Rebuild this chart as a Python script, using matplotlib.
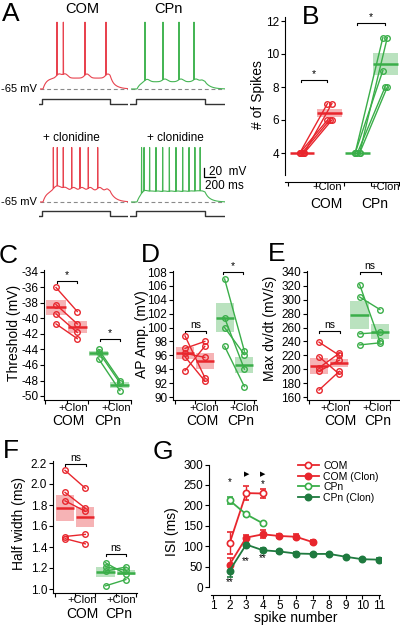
import numpy as np
import matplotlib
matplotlib.use("Agg")
import matplotlib.pyplot as plt
from matplotlib.patches import Rectangle
from matplotlib.lines import Line2D

plt.rcParams["font.family"] = ["Liberation Sans", "DejaVu Sans"]
plt.rcParams["axes.unicode_minus"] = False

W, H = 400, 627
RED = "#e8262d"
GREEN = "#3aae49"
DKGREEN = "#1f7a3f"
TRACE_RED = "#e8434f"
TRACE_GREEN = "#46b555"

# ---- A: example sweeps (ms from sweep start, mV) ----
MS_PER_PX = 18.0
MV_PER_PX = 2.2
sweep_com_ms = 1584
sweep_cpn_ms = 1692
step_com = (54, 1260)
step_cpn = (108, 1332)
com_ctrl_spikes = [306, 420, 810, 1188]
cpn_ctrl_spikes = [252, 576, 864, 1134]
cpn_ctrl_bumps = [1278]
com_clon_spikes = [240, 311, 419, 571, 720, 869, 1039]
com_clon_bumps = [1206]
cpn_clon_spikes = [190, 235, 335, 450, 570, 690, 810, 930, 1045, 1150, 1245]
cpn_clon_bumps = []

# ---- B-F: one value per cell, control vs +clonidine ----
spk_com_ctrl = [4, 4, 4, 4, 4]
spk_com_clon = [7, 7, 6, 6, 6]
spk_cpn_ctrl = [4, 4, 4, 4, 4]
spk_cpn_clon = [11, 11, 9, 8, 8]

thr_com_ctrl = [-36.0, -38.2, -39.4, -40.7]
thr_com_clon = [-39.1, -40.7, -41.8, -42.6]
thr_cpn_ctrl = [-44.0, -44.3, -45.2]
thr_cpn_clon = [-48.0, -48.3, -49.3]

amp_com_ctrl = [98.8, 97.0, 96.3, 95.8, 93.8]
amp_com_clon = [92.8, 98.0, 95.7, 92.3, 97.3]
amp_cpn_ctrl = [107.0, 101.4, 100.0, 97.3]
amp_cpn_clon = [96.6, 94.0, 96.1, 91.5]

dvdt_com_ctrl = [239, 218, 202, 197, 170]
dvdt_com_clon = [220, 193, 223, 213, 197]
dvdt_cpn_ctrl = [322, 304, 251, 235]
dvdt_cpn_clon = [240, 286, 253, 238]

hw_com_ctrl = [2.13, 1.92, 1.84, 1.50, 1.48]
hw_com_clon = [1.96, 1.77, 1.74, 1.52, 1.43]
hw_cpn_ctrl = [1.25, 1.21, 1.17, 1.03]
hw_cpn_clon = [1.14, 1.18, 1.21, 1.09]

# ---- G: ISI by spike number ----
isi_com_n = [2, 3, 4]
isi_com = [107, 230, 229]
isi_com_err = [27, 18, 12]
isi_com_clon_n = [2, 3, 4, 5, 6, 7]
isi_com_clon = [55, 121, 129, 125, 123, 110]
isi_com_clon_err = [17, 6, 10, 6, 6, 4]
isi_cpn_n = [2, 3, 4]
isi_cpn = [212, 178, 156]
isi_cpn_err = [8, 4, 4]
isi_cpn_clon_n = [2, 3, 4, 5, 6, 7, 8, 9, 10, 11]
isi_cpn_clon = [40, 104, 90, 87, 82, 81, 81, 74, 68, 67]
isi_cpn_clon_err = [15, 6, 5, 4, 3, 3, 3, 3, 3, 3]
isi_sig = [(2, 257, "*"), (3, 277, "\u25B6"), (4, 277, "\u25B6"), (4, 253, "*"),
           (2, 12, "**"), (3, 64, "**"), (4, 70, "**")]

fig = plt.figure(figsize=(W / 100, H / 100), dpi=100)


def pax(left, top, right, bottom):
    return fig.add_axes([left / W, 1 - bottom / H, (right - left) / W, (bottom - top) / H])


def ptext(x, y, s, **kw):
    kw.setdefault("ha", "center")
    kw.setdefault("va", "center")
    fig.text(x / W, 1 - y / H, s, **kw)


def sweep(spikes, bumps, on, off, end, plateau, adp, peak):
    t = np.arange(0, end, 0.5)
    v = np.zeros_like(t)
    inside = (t >= on) & (t <= off)
    v[inside] = plateau * (1 - np.exp(-(t[inside] - on) / 60.0))
    after = t > off
    v_off = plateau * (1 - np.exp(-(off - on) / 60.0))
    v[after] = v_off * np.exp(-(t[after] - off) / 95.0)
    for s in spikes:
        v += adp * np.exp(-0.5 * ((t - s - 35) / 45.0) ** 2)
    for b in bumps:
        v += 0.6 * adp * np.exp(-0.5 * ((t - b) / 30.0) ** 2)
    v -= 65
    for s in spikes:
        i = np.searchsorted(t, s)
        v += (peak - v[i]) * np.exp(-0.5 * ((t - s) / 1.2) ** 2)
    return t, v


def trace_panel(x0, base_px, spikes, bumps, step, end, color, plateau, adp, peak, cmd_px):
    right = x0 + end / MS_PER_PX
    top, bottom = base_px - 75, base_px + 4
    ax = pax(x0, top, right, bottom)
    ax.set_xlim(0, end)
    ax.set_ylim(-65 - (bottom - base_px) * MV_PER_PX, -65 + (base_px - top) * MV_PER_PX)
    ax.axis("off")
    ax.axhline(-65, color="#8a8a8a", lw=0.8, ls=(0, (3.5, 2.5)))
    t, v = sweep(spikes, bumps, step[0], step[1], end, plateau, adp, peak)
    ax.plot(t, v, color=color, lw=0.8)
    # command step
    axc = pax(x0 - 1, cmd_px - 7, right, cmd_px + 3)
    axc.set_xlim(0, end)
    axc.set_ylim(-0.6, 1.4)
    axc.axis("off")
    axc.plot([0, step[0], step[0], step[1], step[1], end], [0, 0, 1, 1, 0, 0], color="#333333", lw=1.0)
    return ax


# ---- A ----
trace_panel(40, 89, com_ctrl_spikes, [], step_com, sweep_com_ms, TRACE_RED, 24, 9, 82, 104)
trace_panel(131, 89, cpn_ctrl_spikes, cpn_ctrl_bumps, step_cpn, sweep_cpn_ms, TRACE_GREEN, 16, 6, 82, 104)
trace_panel(40, 202, com_clon_spikes, com_clon_bumps, step_com, sweep_com_ms, TRACE_RED, 24, 8, 55, 216)
ax_sb = trace_panel(131, 202, cpn_clon_spikes, cpn_clon_bumps, step_cpn, sweep_cpn_ms, TRACE_GREEN, 20, 4, 55, 216)

# scale bar: 20 mV, 200 ms
sb_t = (204 - 131) * MS_PER_PX
sb_v = -65 + (202 - 177) * MV_PER_PX
ax_sb.plot([sb_t, sb_t, sb_t + 200], [sb_v + 20, sb_v, sb_v], color="k", lw=0.9, clip_on=False)
ptext(209, 172, "20  mV", ha="left", fontsize=8.5)
ptext(205, 186, "200 ms", ha="left", fontsize=8.5)

ptext(82, 9, "COM", fontsize=10.5)
ptext(168, 9, "CPn", fontsize=10.5)
ptext(43, 138, "+ clonidine", ha="left", fontsize=8.5)
ptext(147, 138, "+ clonidine", ha="left", fontsize=8.5)
ptext(37, 89, "-65 mV", ha="right", fontsize=8)
ptext(37, 202, "-65 mV", ha="right", fontsize=8)


# ---- B-F ----
def value_axes(xl, xr, x1, dx, ya, yb, ylo, yhi):
    s = (yb[1] - ya[1]) / (yb[0] - ya[0])
    top = ya[1] + (yhi - ya[0]) * s
    bot = ya[1] + (ylo - ya[0]) * s
    ax = pax(xl, top, xr, bot)
    ax.set_xlim(1 + (xl - x1) / dx, 1 + (xr - x1) / dx)
    ax.set_ylim(ylo, yhi)
    ax.patch.set_visible(False)
    ax.spines[["top", "right"]].set_visible(False)
    for sp in ax.spines.values():
        sp.set_linewidth(0.8)
    ax.tick_params(direction="out", length=3, width=0.8, labelsize=8.5, pad=1.2)
    return ax


def paired(ax, groups, jitter=None):
    for k, (ctrl, clon, col) in enumerate(groups):
        x0 = 1 + 2 * k
        for i, (a, b) in enumerate(zip(ctrl, clon)):
            j = 0 if jitter is None else jitter[i]
            ax.plot([x0 + j, x0 + 1 + j], [a, b], color=col, lw=1.0, marker="o", ms=4,
                    mfc="none", mew=1.0, zorder=3)
        for xv, vals in ((x0, ctrl), (x0 + 1, clon)):
            m = np.mean(vals)
            s = np.std(vals, ddof=1) / np.sqrt(len(vals))
            ax.add_patch(Rectangle((xv - 0.45, m - s), 0.9, 2 * s, fc=col, alpha=0.35, lw=0, zorder=2))
            ax.plot([xv - 0.45, xv + 0.45], [m, m], color=col, lw=1.8, zorder=4, solid_capstyle="butt")


def bracket(ax, x0, x1, y, label, tick):
    ax.plot([x0, x0, x1, x1], [y - tick, y, y, y - tick], color="k", lw=0.8, clip_on=False)
    ax.text((x0 + x1) / 2, y + tick * 0.4, label, ha="center", va="bottom", fontsize=7.5, clip_on=False)


def cat_axis(ax, out=0):
    ax.spines["bottom"].set_position(("outward", out))
    ax.set_xticks([0.5, 1.5, 2.5, 3.5, 4.5])
    ax.set_xticklabels([])


def cat_labels(clon_xy, com_xy, cpn_xy):
    for x, y in clon_xy:
        ptext(x, y, "+Clon", fontsize=8)
    ptext(com_xy[0], com_xy[1], "COM", fontsize=10)
    ptext(cpn_xy[0], cpn_xy[1], "CPn", fontsize=10)


# B
axb = value_axes(285, 399, 302, 27.7, (12, 21), (4, 153), 2.67, 12.25)
cat_axis(axb, 5)
axb.set_yticks([4, 6, 8, 10, 12])
paired(axb, [(spk_com_ctrl, spk_com_clon, RED), (spk_cpn_ctrl, spk_cpn_clon, GREEN)],
       jitter=[-0.08, 0.08, -0.08, 0.08, 0.0])
bracket(axb, 0.95, 1.9, 8.42, "*", 0.12)
bracket(axb, 3.0, 4.0, 11.88, "*", 0.12)
cat_labels([(327, 187), (385, 187)], (326, 204), (375, 204))
ptext(258, 95, "# of Spikes", rotation=90, fontsize=10)

# C
axc = value_axes(44, 131, 56, 21.3, (-34, 272), (-50, 396), -50.5, -33.8)
cat_axis(axc)
axc.set_yticks(np.arange(-50, -33, 2))
paired(axc, [(thr_com_ctrl, thr_com_clon, RED), (thr_cpn_ctrl, thr_cpn_clon, GREEN)])
bracket(axc, 1.05, 1.98, -35.2, "*", 0.26)
bracket(axc, 3.07, 4.0, -42.6, "*", 0.26)
cat_labels([(73, 408), (116, 408)], (68, 421), (108, 421))
ptext(14, 333, "Threshold (mV)", rotation=90, fontsize=10)

# D
axd = value_axes(173, 256, 185, 19.8, (108, 272), (90, 397), 89.6, 108.2)
cat_axis(axd)
axd.set_yticks(np.arange(90, 109, 2))
paired(axd, [(amp_com_ctrl, amp_com_clon, RED), (amp_cpn_ctrl, amp_cpn_clon, GREEN)])
bracket(axd, 1.0, 2.06, 99.5, "ns", 0.29)
bracket(axd, 2.92, 3.93, 108.05, "*", 0.29)
cat_labels([(204, 408), (244, 408)], (202, 421), (241, 421))
ptext(142, 334, "AP Amp. (mV)", rotation=90, fontsize=10)

# E
axe = value_axes(307, 400, 319, 20.3, (340, 272), (160, 397), 155.5, 341.5)
cat_axis(axe)
axe.set_yticks(np.arange(160, 341, 20))
paired(axe, [(dvdt_com_ctrl, dvdt_com_clon, RED), (dvdt_cpn_ctrl, dvdt_cpn_clon, GREEN)])
bracket(axe, 1.0, 2.03, 255.4, "ns", 2.9)
bracket(axe, 3.0, 4.05, 340.4, "ns", 2.9)
cat_labels([(335, 408), (377, 408)], (340, 421), (378, 421))
ptext(270, 328, "Max dv/dt (mV/s)", rotation=90, fontsize=10)

# F
axf = value_axes(53, 137, 65, 20.3, (2.2, 463), (1.0, 589), 0.96, 2.215)
cat_axis(axf)
axf.set_yticks(np.arange(1.0, 2.21, 0.2))
axf.set_yticklabels([f"{v:.1f}" for v in np.arange(1.0, 2.21, 0.2)])
paired(axf, [(hw_com_ctrl, hw_com_clon, RED), (hw_cpn_ctrl, hw_cpn_clon, GREEN)])
bracket(axf, 1.0, 2.03, 2.19, "ns", 0.019)
bracket(axf, 3.0, 4.0, 1.333, "ns", 0.019)
cat_labels([(82, 600), (121, 600)], (82, 614), (119, 614))
ptext(19, 524, "Half width (ms)", rotation=90, fontsize=10)

# G
axg = value_axes(209, 381, 213, 16.6, (300, 464.5), (0, 587), -3, 302)
axg.spines["bottom"].set_position(("outward", 5))
axg.spines["left"].set_bounds(0, 300)
axg.spines["bottom"].set_bounds(0.85, 11.05)
axg.set_xticks(range(1, 12))
axg.set_yticks(range(0, 301, 50))
axg.tick_params(axis="x", pad=0.5)
series = [
    (isi_com_n, isi_com, isi_com_err, RED, "white", "COM"),
    (isi_com_clon_n, isi_com_clon, isi_com_clon_err, RED, RED, "COM (Clon)"),
    (isi_cpn_n, isi_cpn, isi_cpn_err, GREEN, "white", "CPn"),
    (isi_cpn_clon_n, isi_cpn_clon, isi_cpn_clon_err, DKGREEN, DKGREEN, "CPn (Clon)"),
]
handles = []
for xs, ys, es, col, fc, lab in series:
    axg.errorbar(xs, ys, yerr=es, color=col, marker="o", ms=4.5, mfc=fc, mew=1.2, lw=1.3,
                 capsize=2, elinewidth=1.0, zorder=3)
    handles.append(Line2D([], [], color=col, marker="o", ms=4.5, mfc=fc, mew=1.2, lw=1.3, label=lab))
for xv, yv, s in isi_sig:
    axg.text(xv, yv, s, ha="center", va="center", fontsize=5 if s == "\u25B6" else 7,
             family=["DejaVu Sans"] if s == "\u25B6" else None)
axg.legend(handles=handles, loc="upper left", bbox_to_anchor=(298 / W, 1 - 461 / H),
           bbox_transform=fig.transFigure, frameon=False, fontsize=7.5, handlelength=2.0,
           handletextpad=0.4, labelspacing=0.05, borderpad=0, borderaxespad=0)
ptext(172, 532, "ISI (ms)", rotation=90, fontsize=10)
ptext(296, 618, "spike number", fontsize=10)

# panel letters
for letter, (x, y) in {"A": (11, 14), "B": (311, 17), "C": (8, 256), "D": (150, 255),
                       "E": (277, 254), "F": (11, 451), "G": (163, 452)}.items():
    ptext(x, y, letter, fontsize=19)

fig.savefig("out.png", dpi=100)
